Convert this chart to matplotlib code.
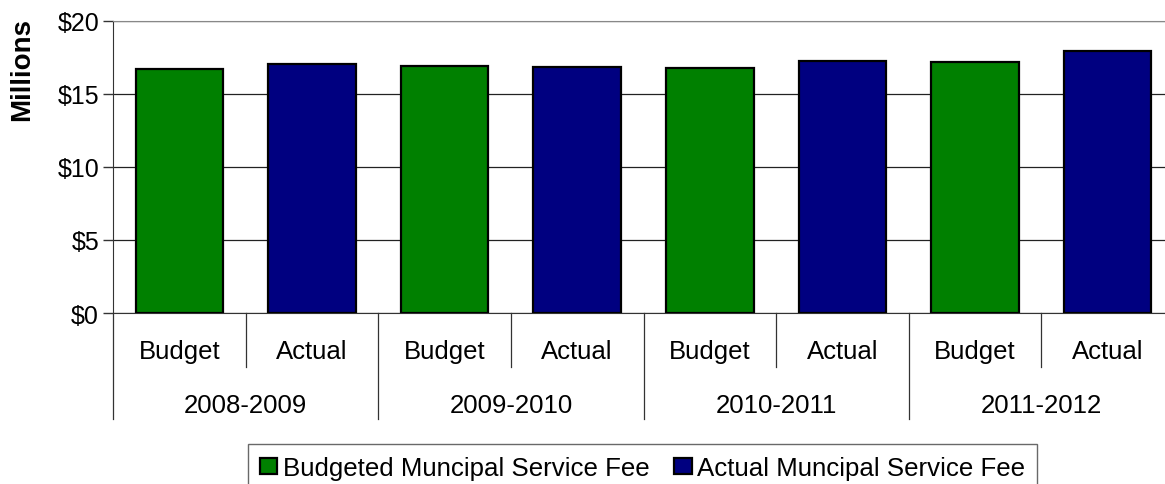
import matplotlib
matplotlib.use("Agg")
import matplotlib.pyplot as plt
from matplotlib.patches import Patch

# Municipal service fee, millions of dollars
years = ["2008-2009", "2009-2010", "2010-2011", "2011-2012"]
sub_labels = ["Budget", "Actual"]
budgeted = [16.70, 16.93, 16.78, 17.14]
actual = [17.02, 16.86, 17.25, 17.95]
yticks = [0, 5, 10, 15, 20]
ytick_labels = ["$0", "$5", "$10", "$15", "$20"]

green = "#008000"
navy = "#000080"

plt.rcParams["font.family"] = ["Liberation Sans", "DejaVu Sans"]

W, H = 1165, 485
fig = plt.figure(figsize=(W / 100, H / 100), dpi=100)
left, right = 113, 1174
top, bottom = 21.7, 314
ax = fig.add_axes([left / W, 1 - bottom / H, (right - left) / W, (bottom - top) / H])

xb = [2 * i for i in range(len(years))]
xa = [2 * i + 1 for i in range(len(years))]
bw = 0.66
ax.bar(xb, budgeted, width=bw, color=green, edgecolor="black", linewidth=1.6, zorder=3)
ax.bar(xa, actual, width=bw, color=navy, edgecolor="black", linewidth=1.6, zorder=3)

fs = 18.5
ax.set_xlim(-0.5, 2 * len(years) - 0.5)
ax.set_ylim(0, 20)
ax.set_yticks(yticks)
ax.set_yticklabels(ytick_labels, fontsize=18)
ax.tick_params(axis="y", length=7, width=1, color="#333333", pad=3)
ax.set_xticks([])
ax.grid(axis="y", color="#222222", linewidth=0.9, zorder=0)

ax.spines["right"].set_visible(False)
ax.spines["left"].set_color("#333333")
ax.spines["bottom"].set_color("#333333")
ax.spines["top"].set_color("#888888")

fig.text(22 / W, 1 - 70 / H, "Millions", rotation=90, fontsize=20,
         fontweight="bold", ha="center", va="center")

# Two-level category axis
trans = ax.get_xaxis_transform()
px = bottom - top
inner_y = -(368 - bottom) / px
outer_y = -(420 - bottom) / px
for i in range(len(years)):
    ax.plot([2 * i - 0.5] * 2, [0, outer_y], transform=trans, color="#333333",
            linewidth=0.9, clip_on=False)
    ax.plot([2 * i + 0.5] * 2, [0, inner_y], transform=trans, color="#333333",
            linewidth=0.9, clip_on=False)
    for j, lab in enumerate(sub_labels):
        ax.text(2 * i + j, -(352 - bottom) / px, lab, transform=trans,
                ha="center", va="center", fontsize=fs)
    ax.text(2 * i + 0.5, -(406 - bottom) / px, years[i], transform=trans,
            ha="center", va="center", fontsize=fs)

handles = [Patch(facecolor=green, edgecolor="black", linewidth=1.6),
           Patch(facecolor=navy, edgecolor="black", linewidth=1.6)]
leg = fig.legend(handles, ["Budgeted Muncipal Service Fee", "Actual Muncipal Service Fee"],
                 loc="center left", bbox_to_anchor=(248 / W, 1 - 469 / H), ncol=2,
                 fontsize=18.6, frameon=True, fancybox=False, edgecolor="#444444",
                 handlelength=0.68, handleheight=0.6, handletextpad=0.22,
                 columnspacing=0.95, borderpad=0.45, borderaxespad=0)
leg.get_frame().set_linewidth(1.0)

fig.savefig("out.png", dpi=100)
